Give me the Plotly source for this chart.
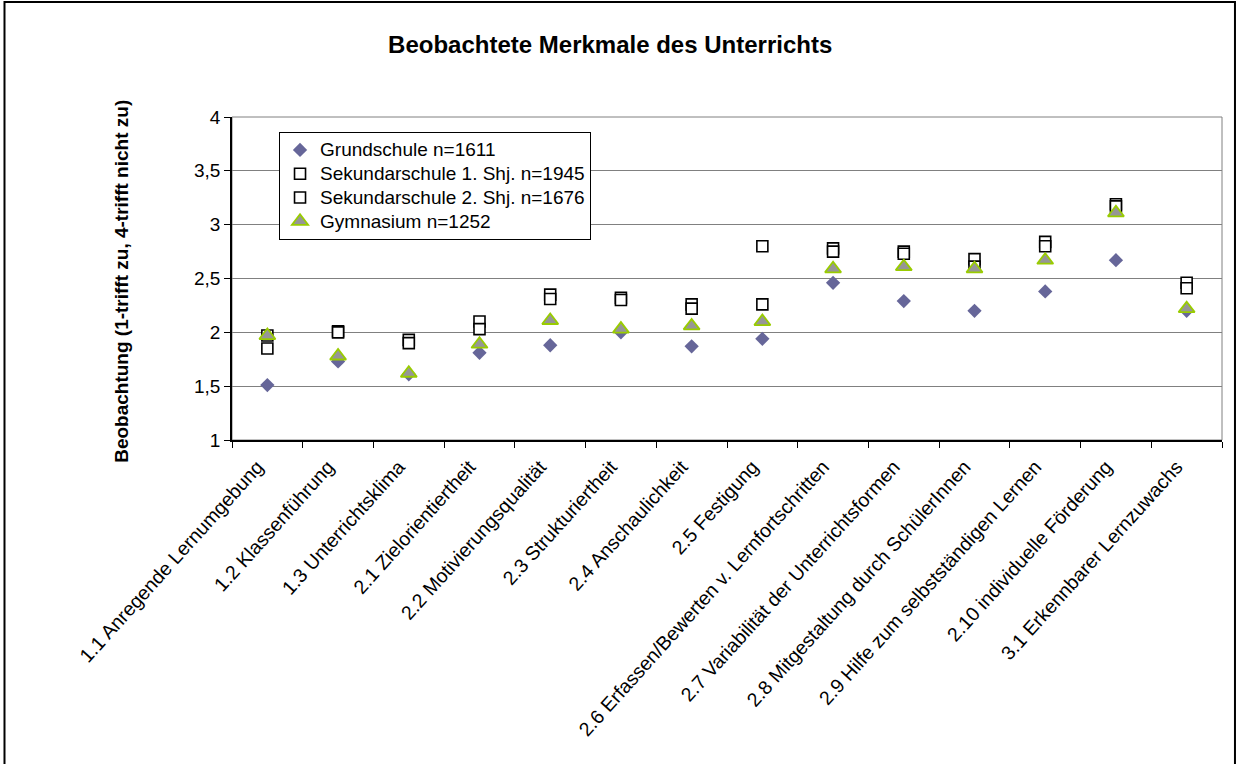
import plotly.graph_objects as go

# category labels (x axis)
categories = [
    "1.1 Anregende Lernumgebung",
    "1.2 Klassenführung",
    "1.3 Unterrichtsklima",
    "2.1 Zielorientiertheit",
    "2.2 Motivierungsqualität",
    "2.3 Strukturiertheit",
    "2.4 Anschaulichkeit",
    "2.5 Festigung",
    "2.6 Erfassen/Bewerten v. Lernfortschritten",
    "2.7 Variabilität der Unterrichtsformen",
    "2.8 Mitgestaltung durch SchülerInnen",
    "2.9 Hilfe zum selbstständigen Lernen",
    "2.10 individuelle Förderung",
    "3.1 Erkennbarer Lernzuwachs",
]

# series values
grundschule = [1.51, 1.73, 1.61, 1.81, 1.88, 2.00, 1.87, 1.94, 2.46, 2.29, 2.20, 2.38, 2.67, 2.20]
sek_1 = [1.97, 2.01, 1.93, 2.10, 2.35, 2.32, 2.26, 2.80, 2.78, 2.75, 2.68, 2.84, 3.19, 2.46]
sek_2 = [1.85, 2.00, 1.90, 2.03, 2.31, 2.30, 2.22, 2.26, 2.75, 2.73, 2.61, 2.80, 3.17, 2.41]
gymnasium = [1.97, 1.78, 1.62, 1.89, 2.11, 2.03, 2.06, 2.10, 2.59, 2.61, 2.59, 2.67, 3.11, 2.22]

series_names = [
    "Grundschule n=1611",
    "Sekundarschule 1. Shj. n=1945",
    "Sekundarschule 2. Shj. n=1676",
    "Gymnasium n=1252",
]

y_ticks = [1, 1.5, 2, 2.5, 3, 3.5, 4]

FONT = "Arial, Liberation Sans, sans-serif"


def legend_label(s):
    # bigger glyphs than the legend row height would normally allow
    return '<span style="font-size:19px">' + s + '</span>'


fig = go.Figure()

fig.add_trace(go.Scatter(
    x=categories, y=grundschule, mode="markers", name=legend_label(series_names[0]),
    marker=dict(symbol="diamond", size=11, color="#666699", line=dict(width=0))))
fig.add_trace(go.Scatter(
    x=categories, y=sek_1, mode="markers", name=legend_label(series_names[1]),
    marker=dict(symbol="square", size=11, color="white", line=dict(color="black", width=1.6))))
fig.add_trace(go.Scatter(
    x=categories, y=sek_2, mode="markers", name=legend_label(series_names[2]),
    marker=dict(symbol="square", size=11, color="white", line=dict(color="black", width=1.6))))
fig.add_trace(go.Scatter(
    x=categories, y=gymnasium, mode="markers", name=legend_label(series_names[3]),
    marker=dict(symbol="triangle-up", size=14, color="#969696", line=dict(color="#99CC00", width=1.8))))

# plot area frame (grey) and outer chart border (black)
fig.add_shape(type="rect", xref="paper", yref="paper", x0=0, x1=1, y0=0, y1=1,
              line=dict(color="#808080", width=1), layer="below")
fig.add_shape(type="rect", xref="paper", yref="paper", x0=-0.2298, x1=1.0131, y0=-1.2, y1=1.356,
              line=dict(color="black", width=2))

fig.add_annotation(
    text="Beobachtung (1-trifft zu, 4-trifft nicht zu)", textangle=-90,
    xref="paper", yref="paper", x=-0.111, y=0.49, xanchor="center", yanchor="middle",
    showarrow=False,
    font=dict(family=FONT, size=19, color="black", weight="bold"))

fig.update_layout(
    width=1238, height=764,
    margin=dict(l=232, r=16, t=117, b=324),
    paper_bgcolor="white", plot_bgcolor="white",
    separators=",.",
    font=dict(family=FONT, color="black", size=19),
    title=dict(text="<b>Beobachtete Merkmale des Unterrichts</b>", x=0.382, xref="paper",
               xanchor="center", y=0.941, yanchor="middle",
               font=dict(family=FONT, size=24, color="black")),
    legend=dict(x=0.0475, y=0.9536, xanchor="left", yanchor="top",
                bordercolor="black", borderwidth=1, bgcolor="white",
                font=dict(family=FONT, size=16, color="black"),
                tracegroupgap=0, itemwidth=30),
    xaxis=dict(type="category", tickangle=-48, tickson="boundaries",
               ticks="outside", ticklen=6, tickcolor="black",
               ticklabelshift=-10, ticklabelstandoff=6,
               showline=True, linecolor="black", linewidth=1.5,
               showgrid=False, tickfont=dict(family=FONT, size=19.5, color="black"),
               range=[-0.5, len(categories) - 0.5]),
    yaxis=dict(range=[1, 4], tickvals=y_ticks, tickformat=".1~f",
               ticks="outside", ticklen=6, tickcolor="black",
               showline=True, linecolor="black", linewidth=1.5,
               showgrid=True, gridcolor="#808080", gridwidth=1,
               zeroline=False, tickfont=dict(family=FONT, size=19, color="black")),
)

fig.write_html("out.html", config={"displayModeBar": False},
               post_script="document.body.style.margin='0';")
